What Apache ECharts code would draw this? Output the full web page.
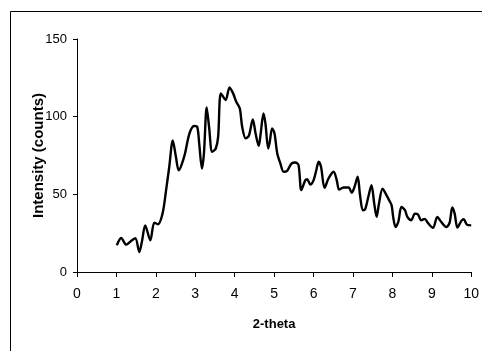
<!DOCTYPE html>
<html><head><meta charset="utf-8">
<script src="https://cdn.jsdelivr.net/npm/echarts@6/dist/echarts.min.js"></script>
<style>html,body{margin:0;padding:0;background:#fff}#c{width:482px;height:351px}</style>
</head><body><div id="c"></div>
<script>
const xValues = [1.01,1.12,1.25,1.37,1.48,1.58,1.65,1.73,1.86,1.96,2.05,2.17,2.26,2.34,2.43,2.51,2.58,2.65,2.74,2.85,2.97,3.05,3.10,3.17,3.22,3.29,3.35,3.43,3.52,3.58,3.65,3.77,3.87,3.96,4.04,4.13,4.19,4.28,4.36,4.46,4.53,4.61,4.66,4.73,4.78,4.85,4.89,4.95,5.01,5.08,5.16,5.24,5.33,5.44,5.54,5.62,5.69,5.79,5.84,5.92,6.00,6.07,6.13,6.19,6.28,6.38,6.51,6.59,6.65,6.76,6.89,6.97,7.04,7.12,7.18,7.25,7.31,7.39,7.47,7.54,7.60,7.66,7.75,7.83,7.91,7.98,8.02,8.08,8.15,8.23,8.32,8.38,8.48,8.57,8.65,8.73,8.82,8.90,9.03,9.14,9.24,9.37,9.45,9.52,9.58,9.65,9.75,9.81,9.89,10.00];
const intensity = [17.2,21.9,17.6,20,21.7,12.9,20,30,20.4,31.8,30.7,37.6,52.7,67.7,84.7,74,65.5,68.8,76.3,89,94,93.5,82.7,66.6,76.3,106,93.5,77.4,79.5,87,115,110.7,118.8,115,109.6,105.3,93.5,86,87.7,98.2,89.2,81.2,89.2,102,95.6,79.5,83.8,92.4,89.2,76.3,69.8,64.5,65.1,69.8,70.5,68.8,52.7,59,59.7,56.3,59,65.5,71,67.7,54.2,60.2,64.5,59,53,54.4,54.4,51,54.8,61.3,49.4,39.8,40.4,48.4,55.9,44,35.5,44,53.7,50.5,46.6,43,35.5,29,32.2,41.9,39.8,35.5,33.3,37.6,37,33.3,34.2,31.6,28.4,35.5,32.2,29,31.6,41.5,37.6,28.6,32.9,34,30.5,30];
const xTicks = [0,1,2,3,4,5,6,7,8,9,10];
const yTicks = [0,50,100,150];

const chart = echarts.init(document.getElementById('c'), null, {renderer:'canvas'});
const font = 'Liberation Sans, Arial, sans-serif';
chart.setOption({
  animation:false,
  backgroundColor:'#fff',
  graphic:[{type:'rect',shape:{x:10.5,y:11.5,width:500,height:400},style:{fill:'none',stroke:'#000',lineWidth:1},silent:true}],
  grid:{left:77,top:39,right:9,bottom:79,containLabel:false},
  xAxis:{type:'value',min:xTicks[0],max:xTicks[xTicks.length-1],interval:1,
    name:'2-theta',nameLocation:'middle',nameGap:46,nameMoveOverlap:false,
    nameTextStyle:{fontFamily:font,fontSize:13,fontWeight:'bold',color:'#000'},
    axisLine:{show:true,lineStyle:{color:'#000',width:1}},
    axisTick:{show:true,inside:false,length:5,lineStyle:{color:'#000'}},
    axisLabel:{fontFamily:font,fontSize:14,color:'#000',margin:15},
    splitLine:{show:false}},
  yAxis:{type:'value',min:yTicks[0],max:yTicks[yTicks.length-1],interval:50,
    name:'Intensity (counts)',nameLocation:'middle',nameGap:31,nameRotate:90,nameMoveOverlap:false,
    nameTextStyle:{fontFamily:font,fontSize:15,fontWeight:'bold',color:'#000'},
    axisLine:{show:true,lineStyle:{color:'#000',width:1}},
    axisTick:{show:true,inside:false,length:4,lineStyle:{color:'#000'}},
    axisLabel:{fontFamily:font,fontSize:13,color:'#000',margin:10},
    splitLine:{show:false}},
  series:[{type:'line',data:xValues.map((x,i)=>[x,intensity[i]]),smooth:0.3,showSymbol:false,
    lineStyle:{color:'#000',width:2.4},clip:false}]
});
</script></body></html>
